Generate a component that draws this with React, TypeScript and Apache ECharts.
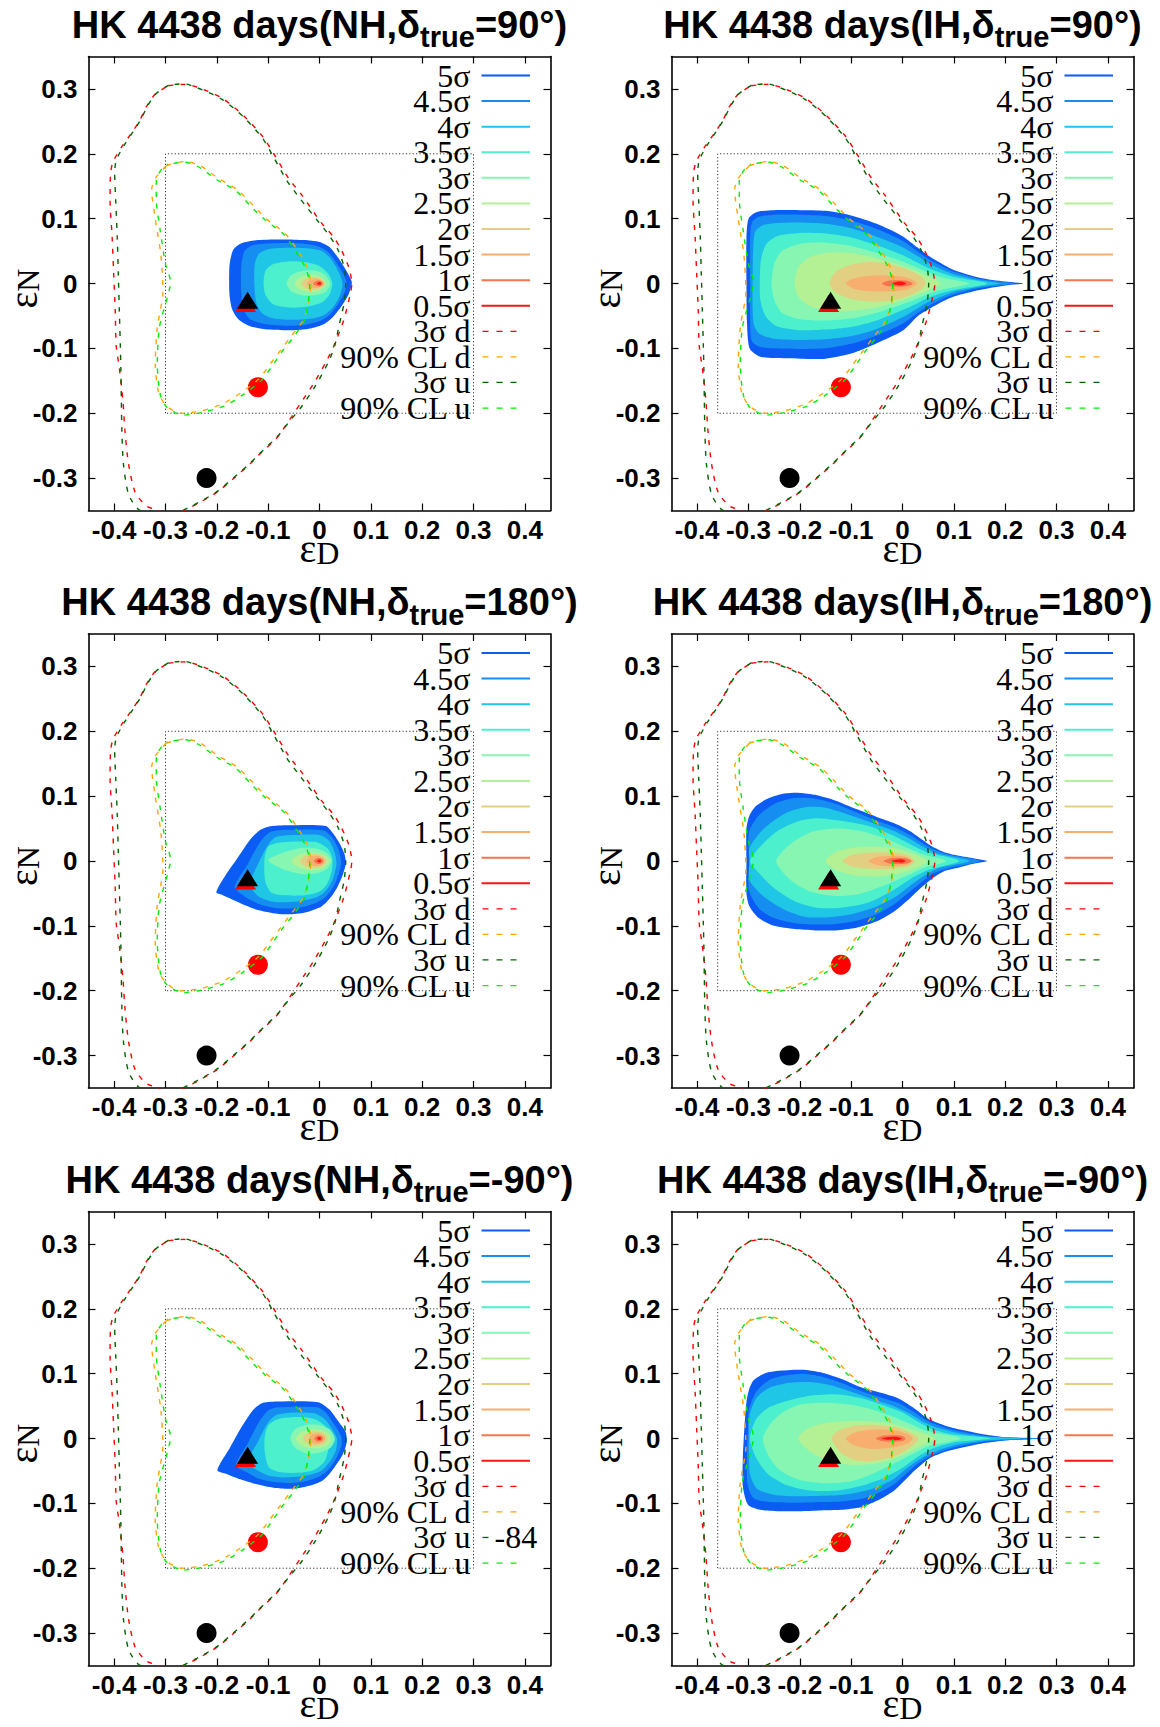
import React, { useEffect, useRef } from 'react';
import * as echarts from 'echarts';

// ---------- axis ticks ----------
const X_TICKS = [-0.4, -0.3, -0.2, -0.1, 0, 0.1, 0.2, 0.3, 0.4];
const Y_TICKS = [-0.3, -0.2, -0.1, 0, 0.1, 0.2, 0.3];

// ---------- panel titles ----------
const HIER = ['NH', 'IH', 'NH', 'IH', 'NH', 'IH'];
const DELTA = ['90', '90', '180', '180', '-90', '-90'];

// ---------- legend ----------
const LEVEL_NAMES = ['5σ', '4.5σ', '4σ', '3.5σ', '3σ', '2.5σ', '2σ', '1.5σ', '1σ', '0.5σ'];
const LEVEL_COLORS = ['#0a5cf4', '#168df0', '#1fc6e6', '#4cf0cc', '#86f6b2', '#b4f094', '#e3cf82', '#f7ae6e', '#f6744e', '#ff1414'];
const LINE_NAMES = ['3σ d', '90% CL d', '3σ u', '90% CL u'];
const LINE_COLORS = ['#ff0000', '#ffa500', '#006400', '#00ee00'];

// ---------- dashed contours (same in every panel) ----------
const C3S_D = [[-0.294,0.305],[-0.265,0.307],[-0.239,0.303],[-0.19,0.286],[-0.147,0.258],[-0.111,0.227],[-0.089,0.2],[-0.06,0.162],[-0.035,0.137],[0.004,0.093],[0.027,0.072],[0.043,0.051],[0.057,0.025],[0.063,0.0],[0.06,-0.016],[0.047,-0.057],[0.027,-0.098],[0.014,-0.119],[-0.012,-0.155],[-0.038,-0.186],[-0.06,-0.212],[-0.082,-0.237],[-0.119,-0.265],[-0.135,-0.278],[-0.168,-0.301],[-0.2,-0.322],[-0.239,-0.34],[-0.27,-0.352],[-0.3,-0.356],[-0.314,-0.35],[-0.337,-0.343],[-0.359,-0.322],[-0.372,-0.278],[-0.379,-0.227],[-0.383,-0.18],[-0.39,-0.13],[-0.396,-0.096],[-0.398,-0.04],[-0.401,0.016],[-0.404,0.072],[-0.408,0.128],[-0.407,0.17],[-0.402,0.188],[-0.385,0.211],[-0.368,0.23],[-0.351,0.25],[-0.337,0.273],[-0.32,0.292],[-0.294,0.305]];
const C90_D = [[-0.298,0.182],[-0.262,0.188],[-0.233,0.182],[-0.197,0.162],[-0.161,0.145],[-0.132,0.123],[-0.104,0.1],[-0.068,0.078],[-0.046,0.055],[-0.025,0.027],[-0.017,-0.001],[-0.021,-0.029],[-0.032,-0.057],[-0.053,-0.079],[-0.075,-0.102],[-0.096,-0.124],[-0.118,-0.147],[-0.154,-0.169],[-0.19,-0.186],[-0.233,-0.197],[-0.27,-0.2],[-0.298,-0.189],[-0.313,-0.169],[-0.32,-0.124],[-0.316,-0.068],[-0.305,-0.012],[-0.309,0.044],[-0.32,0.1],[-0.327,0.145],[-0.32,0.162],[-0.305,0.176],[-0.298,0.182]];
const C3S_U = [[-0.294,0.306],[-0.265,0.308],[-0.239,0.302],[-0.19,0.284],[-0.147,0.256],[-0.111,0.224],[-0.091,0.197],[-0.063,0.158],[-0.038,0.131],[-0.005,0.098],[0.018,0.075],[0.036,0.052],[0.048,0.025],[0.051,0.0],[0.048,-0.03],[0.038,-0.065],[0.03,-0.095],[0.018,-0.12],[-0.008,-0.158],[-0.035,-0.19],[-0.06,-0.214],[-0.082,-0.236],[-0.119,-0.264],[-0.135,-0.277],[-0.168,-0.3],[-0.2,-0.321],[-0.239,-0.339],[-0.27,-0.351],[-0.3,-0.357],[-0.33,-0.353],[-0.353,-0.348],[-0.372,-0.325],[-0.382,-0.278],[-0.385,-0.227],[-0.386,-0.18],[-0.387,-0.13],[-0.388,-0.096],[-0.39,-0.04],[-0.392,0.016],[-0.394,0.072],[-0.397,0.128],[-0.399,0.17],[-0.396,0.19],[-0.38,0.214],[-0.364,0.233],[-0.348,0.253],[-0.334,0.275],[-0.318,0.293],[-0.294,0.306]];
const C90_U = [[-0.296,0.184],[-0.262,0.187],[-0.236,0.18],[-0.2,0.16],[-0.163,0.143],[-0.135,0.12],[-0.106,0.098],[-0.07,0.076],[-0.048,0.052],[-0.028,0.025],[-0.019,0.0],[-0.022,-0.03],[-0.03,-0.058],[-0.05,-0.082],[-0.072,-0.104],[-0.092,-0.127],[-0.114,-0.15],[-0.15,-0.172],[-0.186,-0.189],[-0.23,-0.199],[-0.265,-0.203],[-0.296,-0.192],[-0.31,-0.172],[-0.316,-0.124],[-0.312,-0.068],[-0.296,-0.02],[-0.29,0.002],[-0.3,0.03],[-0.31,0.08],[-0.318,0.13],[-0.318,0.16],[-0.306,0.178],[-0.296,0.184]];
const CONTOURS = [C3S_D, C90_D, C3S_U, C90_U];

// ---------- dotted boxes ----------
const BOX_NH = [[-0.3,-0.2],[-0.3,0.2],[0.3,0.2],[0.3,-0.2],[-0.3,-0.2]];
const BOX_IH = [[-0.36,-0.2],[-0.36,0.2],[0.3,0.2],[0.3,-0.2],[-0.36,-0.2]];

// ---------- markers ----------
const BLACK_DOT = [[-0.22, -0.3]];
const RED_DOT = [[-0.12, -0.16]];
const RED_TRI = [[-0.144, -0.031]];
const BLACK_TRI = [[-0.14, -0.026]];

// ---------- filled contours: one list of polygons (5σ ... 0.5σ) per panel ----------
const SMALL_05 = [[-0.005,0.0],[-0.002,0.002],[0.002,0.002],[0.003,0.0],[0.002,-0.002],[-0.002,-0.002]];

const FILL_NH90 = [
  [[-0.176,0.0],[-0.175,0.03],[-0.168,0.052],[-0.152,0.062],[-0.12,0.067],[-0.07,0.068],[-0.03,0.067],[0.0,0.064],[0.02,0.056],[0.036,0.04],[0.052,0.02],[0.063,0.002],[0.057,-0.016],[0.042,-0.036],[0.026,-0.052],[0.008,-0.063],[-0.015,-0.069],[-0.05,-0.072],[-0.1,-0.071],[-0.135,-0.066],[-0.158,-0.055],[-0.17,-0.04],[-0.175,-0.02]],
  [[-0.153,0.0],[-0.152,0.03],[-0.146,0.05],[-0.13,0.059],[-0.09,0.062],[-0.04,0.062],[-0.005,0.058],[0.015,0.05],[0.032,0.033],[0.046,0.015],[0.053,0.0],[0.048,-0.015],[0.035,-0.033],[0.02,-0.048],[0.0,-0.058],[-0.03,-0.064],[-0.07,-0.065],[-0.11,-0.062],[-0.135,-0.055],[-0.148,-0.04],[-0.152,-0.02]],
  [[-0.127,0.0],[-0.126,0.03],[-0.118,0.046],[-0.1,0.053],[-0.06,0.055],[-0.02,0.054],[0.005,0.05],[0.022,0.038],[0.036,0.02],[0.045,0.0],[0.04,-0.018],[0.028,-0.035],[0.01,-0.048],[-0.015,-0.054],[-0.05,-0.056],[-0.09,-0.054],[-0.112,-0.046],[-0.123,-0.03]],
  [[-0.109,0.0],[-0.105,0.02],[-0.09,0.03],[-0.06,0.034],[-0.03,0.033],[0.0,0.027],[0.018,0.014],[0.025,0.0],[0.02,-0.016],[0.005,-0.029],[-0.025,-0.036],[-0.06,-0.037],[-0.09,-0.032],[-0.105,-0.018]],
  [[-0.064,0.0],[-0.055,0.013],[-0.035,0.019],[-0.01,0.02],[0.01,0.014],[0.021,0.0],[0.012,-0.013],[-0.01,-0.018],[-0.035,-0.018],[-0.055,-0.012]],
  [[-0.048,0.0],[-0.04,0.009],[-0.02,0.013],[0.0,0.011],[0.014,0.0],[0.0,-0.011],[-0.02,-0.013],[-0.04,-0.009]],
  [[-0.035,0.0],[-0.028,0.007],[-0.012,0.01],[0.003,0.007],[0.011,0.0],[0.003,-0.007],[-0.012,-0.01],[-0.028,-0.007]],
  [[-0.025,0.0],[-0.018,0.005],[-0.006,0.007],[0.005,0.004],[0.009,0.0],[0.005,-0.004],[-0.006,-0.007],[-0.018,-0.005]],
  [[-0.012,0.0],[-0.007,0.0035],[0.0,0.0045],[0.005,0.0025],[0.006,0.0],[0.005,-0.0025],[0.0,-0.0045],[-0.007,-0.0035]],
  SMALL_05,
];

const FILL_IH90 = [
  [[-0.304,0.0],[-0.304,0.07],[-0.3,0.1],[-0.285,0.11],[-0.25,0.113],[-0.2,0.113],[-0.15,0.112],[-0.1,0.105],[-0.05,0.092],[0.0,0.073],[0.03,0.055],[0.05,0.043],[0.08,0.029],[0.1,0.021],[0.15,0.009],[0.2,0.003],[0.235,0.0],[0.2,-0.003],[0.15,-0.01],[0.1,-0.02],[0.08,-0.027],[0.05,-0.04],[0.03,-0.05],[0.0,-0.073],[-0.05,-0.092],[-0.1,-0.108],[-0.15,-0.116],[-0.2,-0.116],[-0.25,-0.115],[-0.28,-0.112],[-0.298,-0.1],[-0.303,-0.06]],
  [[-0.297,0.0],[-0.297,0.07],[-0.293,0.095],[-0.28,0.103],[-0.25,0.106],[-0.2,0.106],[-0.15,0.104],[-0.1,0.097],[-0.05,0.084],[0.0,0.066],[0.03,0.049],[0.05,0.038],[0.08,0.025],[0.1,0.018],[0.15,0.007],[0.215,0.0],[0.15,-0.007],[0.1,-0.017],[0.08,-0.023],[0.05,-0.035],[0.03,-0.045],[0.0,-0.062],[-0.05,-0.08],[-0.1,-0.093],[-0.15,-0.1],[-0.2,-0.101],[-0.25,-0.1],[-0.28,-0.097],[-0.294,-0.088],[-0.297,-0.05]],
  [[-0.292,0.0],[-0.291,0.05],[-0.287,0.08],[-0.272,0.09],[-0.25,0.093],[-0.2,0.094],[-0.15,0.092],[-0.1,0.085],[-0.05,0.072],[0.0,0.056],[0.03,0.042],[0.05,0.032],[0.08,0.02],[0.1,0.014],[0.15,0.005],[0.19,0.0],[0.15,-0.005],[0.1,-0.013],[0.08,-0.019],[0.05,-0.029],[0.03,-0.038],[0.0,-0.052],[-0.05,-0.07],[-0.1,-0.081],[-0.15,-0.086],[-0.2,-0.087],[-0.25,-0.085],[-0.278,-0.078],[-0.289,-0.065],[-0.292,-0.04]],
  [[-0.278,0.0],[-0.276,0.035],[-0.266,0.06],[-0.245,0.073],[-0.2,0.078],[-0.15,0.077],[-0.1,0.071],[-0.05,0.059],[0.0,0.044],[0.03,0.032],[0.05,0.024],[0.08,0.015],[0.1,0.01],[0.165,0.0],[0.1,-0.01],[0.08,-0.014],[0.05,-0.022],[0.03,-0.03],[0.0,-0.041],[-0.05,-0.057],[-0.1,-0.067],[-0.15,-0.071],[-0.2,-0.072],[-0.245,-0.066],[-0.267,-0.05],[-0.277,-0.025]],
  [[-0.255,0.0],[-0.25,0.03],[-0.235,0.05],[-0.2,0.061],[-0.15,0.063],[-0.1,0.058],[-0.05,0.047],[0.0,0.034],[0.03,0.024],[0.05,0.017],[0.08,0.009],[0.13,0.0],[0.08,-0.009],[0.05,-0.016],[0.03,-0.023],[0.0,-0.032],[-0.05,-0.045],[-0.1,-0.054],[-0.15,-0.057],[-0.2,-0.055],[-0.235,-0.045],[-0.25,-0.025]],
  [[-0.21,0.0],[-0.203,0.025],[-0.18,0.041],[-0.14,0.048],[-0.1,0.047],[-0.05,0.039],[0.0,0.027],[0.03,0.018],[0.055,0.009],[0.075,0.0],[0.055,-0.009],[0.03,-0.017],[0.0,-0.026],[-0.05,-0.037],[-0.1,-0.042],[-0.14,-0.042],[-0.18,-0.035],[-0.203,-0.02]],
  [[-0.142,0.0],[-0.13,0.018],[-0.1,0.029],[-0.06,0.033],[-0.02,0.029],[0.015,0.02],[0.037,0.01],[0.045,0.0],[0.037,-0.009],[0.015,-0.018],[-0.02,-0.026],[-0.06,-0.028],[-0.1,-0.024],[-0.13,-0.014]],
  [[-0.11,0.0],[-0.095,0.008],[-0.06,0.012],[-0.02,0.012],[0.01,0.009],[0.028,0.0],[0.01,-0.009],[-0.02,-0.012],[-0.06,-0.012],[-0.095,-0.008]],
  [[-0.04,0.0],[-0.03,0.004],[-0.01,0.005],[0.01,0.004],[0.02,0.0],[0.01,-0.004],[-0.01,-0.005],[-0.03,-0.004]],
  [[-0.02,0.0],[-0.012,0.0025],[0.0,0.0028],[0.007,0.0],[0.0,-0.0028],[-0.012,-0.0025]],
];

const FILL_NH180 = [
  [[-0.201,-0.048],[-0.183,-0.022],[-0.161,0.003],[-0.133,0.035],[-0.115,0.048],[-0.1,0.053],[-0.061,0.055],[0.012,0.054],[0.026,0.043],[0.04,0.026],[0.049,0.01],[0.051,-0.005],[0.045,-0.022],[0.035,-0.04],[0.022,-0.056],[0.004,-0.07],[-0.032,-0.08],[-0.075,-0.082],[-0.118,-0.076],[-0.154,-0.065],[-0.19,-0.052]],
  [[-0.165,-0.04],[-0.14,-0.005],[-0.115,0.03],[-0.095,0.045],[-0.06,0.048],[0.008,0.047],[0.025,0.036],[0.037,0.018],[0.042,-0.004],[0.032,-0.032],[0.015,-0.053],[-0.005,-0.064],[-0.04,-0.072],[-0.08,-0.073],[-0.115,-0.067],[-0.145,-0.055]],
  [[-0.135,-0.035],[-0.12,-0.005],[-0.1,0.025],[-0.085,0.037],[-0.05,0.04],[0.0,0.04],[0.02,0.03],[0.03,0.012],[0.033,-0.005],[0.025,-0.03],[0.01,-0.048],[-0.01,-0.057],[-0.05,-0.063],[-0.09,-0.063],[-0.12,-0.054]],
  [[-0.107,0.005],[-0.1,0.022],[-0.08,0.028],[-0.04,0.03],[-0.005,0.029],[0.015,0.02],[0.025,0.005],[0.024,-0.015],[0.015,-0.035],[0.0,-0.047],[-0.03,-0.053],[-0.07,-0.053],[-0.095,-0.048],[-0.106,-0.03]],
  [[-0.1,0.001],[-0.07,0.013],[-0.035,0.02],[-0.005,0.019],[0.015,0.012],[0.024,0.0],[0.015,-0.012],[-0.005,-0.019],[-0.035,-0.02],[-0.07,-0.013]],
  [[-0.055,0.0],[-0.04,0.01],[-0.015,0.013],[0.008,0.01],[0.02,0.0],[0.008,-0.011],[-0.015,-0.014],[-0.04,-0.01]],
  [[-0.038,0.0],[-0.028,0.008],[-0.01,0.011],[0.005,0.008],[0.014,0.0],[0.005,-0.008],[-0.01,-0.011],[-0.028,-0.008]],
  [[-0.025,0.0],[-0.017,0.006],[-0.005,0.008],[0.006,0.005],[0.01,0.0],[0.006,-0.005],[-0.005,-0.008],[-0.017,-0.006]],
  [[-0.011,0.0],[-0.006,0.004],[0.0,0.0045],[0.005,0.003],[0.007,0.0],[0.005,-0.003],[0.0,-0.0045],[-0.006,-0.004]],
  SMALL_05,
];

const FILL_IH180 = [
  [[-0.304,0.0],[-0.304,0.05],[-0.298,0.07],[-0.285,0.085],[-0.26,0.097],[-0.23,0.104],[-0.2,0.105],[-0.17,0.102],[-0.13,0.093],[-0.09,0.08],[-0.05,0.068],[-0.015,0.058],[0.015,0.046],[0.04,0.032],[0.056,0.023],[0.08,0.014],[0.11,0.008],[0.14,0.004],[0.165,0.0],[0.14,-0.004],[0.11,-0.01],[0.08,-0.016],[0.056,-0.028],[0.035,-0.042],[0.015,-0.057],[-0.015,-0.077],[-0.05,-0.093],[-0.09,-0.103],[-0.13,-0.107],[-0.17,-0.107],[-0.21,-0.105],[-0.25,-0.1],[-0.28,-0.088],[-0.298,-0.07],[-0.304,-0.05]],
  [[-0.299,0.0],[-0.299,0.045],[-0.28,0.07],[-0.25,0.088],[-0.21,0.097],[-0.17,0.096],[-0.13,0.088],[-0.09,0.075],[-0.05,0.062],[-0.015,0.052],[0.015,0.04],[0.04,0.027],[0.06,0.018],[0.09,0.01],[0.15,0.0],[0.09,-0.011],[0.06,-0.019],[0.04,-0.031],[0.015,-0.047],[-0.015,-0.066],[-0.05,-0.082],[-0.09,-0.092],[-0.13,-0.097],[-0.17,-0.098],[-0.21,-0.096],[-0.25,-0.088],[-0.28,-0.073],[-0.299,-0.045]],
  [[-0.298,0.0],[-0.298,0.02],[-0.27,0.05],[-0.23,0.073],[-0.19,0.083],[-0.15,0.082],[-0.1,0.07],[-0.05,0.056],[-0.015,0.046],[0.015,0.034],[0.04,0.022],[0.07,0.011],[0.13,0.0],[0.07,-0.011],[0.04,-0.024],[0.015,-0.038],[-0.015,-0.056],[-0.05,-0.07],[-0.1,-0.082],[-0.15,-0.087],[-0.19,-0.086],[-0.23,-0.075],[-0.27,-0.055],[-0.298,-0.03]],
  [[-0.297,0.0],[-0.27,0.028],[-0.24,0.048],[-0.2,0.062],[-0.167,0.066],[-0.12,0.062],[-0.066,0.054],[-0.02,0.04],[0.015,0.026],[0.05,0.013],[0.11,0.0],[0.05,-0.014],[0.015,-0.028],[-0.02,-0.046],[-0.066,-0.064],[-0.12,-0.072],[-0.167,-0.072],[-0.21,-0.062],[-0.25,-0.042],[-0.278,-0.02]],
  [[-0.246,0.0],[-0.22,0.025],[-0.18,0.044],[-0.13,0.05],[-0.08,0.046],[-0.03,0.034],[0.01,0.02],[0.04,0.01],[0.085,0.0],[0.04,-0.011],[0.01,-0.022],[-0.03,-0.036],[-0.08,-0.05],[-0.13,-0.054],[-0.18,-0.047],[-0.22,-0.028]],
  [[-0.15,0.0],[-0.13,0.014],[-0.095,0.021],[-0.05,0.022],[-0.01,0.019],[0.025,0.01],[0.048,0.0],[0.025,-0.011],[-0.01,-0.02],[-0.05,-0.024],[-0.095,-0.022],[-0.13,-0.014]],
  [[-0.117,0.0],[-0.1,0.009],[-0.06,0.013],[-0.02,0.013],[0.01,0.009],[0.024,0.0],[0.01,-0.009],[-0.02,-0.012],[-0.06,-0.012],[-0.1,-0.008]],
  [[-0.066,0.0],[-0.05,0.006],[-0.02,0.008],[0.005,0.007],[0.02,0.0],[0.005,-0.007],[-0.02,-0.008],[-0.05,-0.006]],
  [[-0.037,0.0],[-0.025,0.004],[-0.008,0.005],[0.008,0.004],[0.017,0.0],[0.008,-0.004],[-0.008,-0.005],[-0.025,-0.004]],
  [[-0.022,0.0],[-0.012,0.002],[0.0,0.0025],[0.006,0.0],[0.0,-0.0025],[-0.012,-0.002]],
];

const FILL_NHM90 = [
  [[-0.199,-0.049],[-0.175,-0.015],[-0.15,0.02],[-0.128,0.045],[-0.11,0.055],[-0.08,0.057],[-0.003,0.056],[0.019,0.045],[0.038,0.025],[0.051,0.01],[0.053,-0.006],[0.045,-0.025],[0.033,-0.04],[0.018,-0.056],[0.004,-0.066],[-0.02,-0.073],[-0.046,-0.077],[-0.075,-0.077],[-0.104,-0.074],[-0.13,-0.069],[-0.154,-0.063],[-0.18,-0.055]],
  [[-0.163,-0.041],[-0.14,-0.008],[-0.118,0.025],[-0.1,0.043],[-0.08,0.048],[-0.005,0.048],[0.012,0.04],[0.03,0.02],[0.042,0.004],[0.043,-0.01],[0.033,-0.03],[0.015,-0.05],[-0.005,-0.06],[-0.04,-0.068],[-0.08,-0.068],[-0.115,-0.063],[-0.14,-0.053]],
  [[-0.14,-0.036],[-0.12,-0.005],[-0.1,0.025],[-0.085,0.036],[-0.05,0.04],[-0.01,0.039],[0.01,0.03],[0.025,0.014],[0.034,0.0],[0.032,-0.018],[0.02,-0.036],[0.003,-0.05],[-0.03,-0.058],[-0.07,-0.06],[-0.1,-0.057],[-0.125,-0.047]],
  [[-0.107,0.0],[-0.1,0.02],[-0.08,0.03],[-0.04,0.033],[-0.01,0.03],[0.01,0.02],[0.02,0.005],[0.018,-0.015],[0.01,-0.035],[-0.01,-0.048],[-0.04,-0.053],[-0.075,-0.052],[-0.098,-0.045],[-0.106,-0.025]],
  [[-0.057,0.0],[-0.048,0.014],[-0.025,0.021],[0.0,0.021],[0.02,0.014],[0.03,0.0],[0.022,-0.014],[0.0,-0.022],[-0.025,-0.023],[-0.048,-0.014]],
  [[-0.046,0.0],[-0.036,0.01],[-0.015,0.014],[0.005,0.013],[0.02,0.006],[0.022,-0.003],[0.015,-0.011],[-0.005,-0.015],[-0.025,-0.014],[-0.04,-0.008]],
  [[-0.032,0.0],[-0.024,0.008],[-0.008,0.011],[0.008,0.008],[0.015,0.0],[0.008,-0.008],[-0.008,-0.011],[-0.024,-0.008]],
  [[-0.021,0.0],[-0.014,0.006],[-0.003,0.008],[0.007,0.005],[0.011,0.0],[0.007,-0.005],[-0.003,-0.008],[-0.014,-0.006]],
  [[-0.01,0.0],[-0.006,0.004],[0.0,0.0045],[0.005,0.003],[0.007,0.0],[0.005,-0.003],[0.0,-0.0045],[-0.006,-0.004]],
  SMALL_05,
];

const FILL_IHM90 = [
  [[-0.308,0.016],[-0.304,0.056],[-0.298,0.078],[-0.29,0.09],[-0.27,0.1],[-0.246,0.104],[-0.196,0.106],[-0.16,0.102],[-0.12,0.092],[-0.081,0.079],[-0.04,0.07],[-0.009,0.062],[0.02,0.048],[0.04,0.036],[0.056,0.028],[0.09,0.018],[0.128,0.011],[0.16,0.006],[0.2,0.002],[0.25,0.0005],[0.294,0.0],[0.25,-0.001],[0.2,-0.003],[0.16,-0.007],[0.128,-0.012],[0.09,-0.019],[0.056,-0.029],[0.04,-0.038],[0.02,-0.052],[-0.016,-0.08],[-0.05,-0.096],[-0.081,-0.106],[-0.12,-0.11],[-0.16,-0.111],[-0.2,-0.112],[-0.268,-0.111],[-0.3,-0.103],[-0.311,-0.074],[-0.311,-0.029]],
  [[-0.301,0.016],[-0.299,0.045],[-0.285,0.072],[-0.26,0.09],[-0.23,0.097],[-0.196,0.1],[-0.16,0.096],[-0.12,0.086],[-0.08,0.073],[-0.04,0.063],[-0.009,0.055],[0.02,0.042],[0.04,0.031],[0.06,0.023],[0.09,0.015],[0.13,0.008],[0.17,0.003],[0.27,0.0],[0.17,-0.004],[0.13,-0.009],[0.09,-0.016],[0.06,-0.025],[0.04,-0.033],[0.02,-0.045],[-0.016,-0.07],[-0.05,-0.085],[-0.08,-0.093],[-0.12,-0.097],[-0.16,-0.098],[-0.2,-0.099],[-0.26,-0.098],[-0.29,-0.092],[-0.302,-0.07],[-0.303,-0.029]],
  [[-0.299,0.0],[-0.298,0.035],[-0.285,0.062],[-0.26,0.078],[-0.22,0.086],[-0.18,0.087],[-0.14,0.082],[-0.1,0.072],[-0.06,0.061],[-0.02,0.051],[0.01,0.04],[0.04,0.026],[0.07,0.016],[0.11,0.008],[0.16,0.003],[0.23,0.0],[0.16,-0.003],[0.11,-0.009],[0.07,-0.018],[0.04,-0.029],[0.01,-0.045],[-0.02,-0.064],[-0.06,-0.078],[-0.1,-0.085],[-0.14,-0.088],[-0.2,-0.089],[-0.25,-0.087],[-0.283,-0.078],[-0.297,-0.055],[-0.299,-0.025]],
  [[-0.297,0.0],[-0.285,0.03],[-0.26,0.048],[-0.225,0.058],[-0.18,0.066],[-0.124,0.068],[-0.08,0.062],[-0.04,0.052],[0.0,0.04],[0.03,0.026],[0.06,0.014],[0.1,0.006],[0.17,0.0],[0.1,-0.006],[0.06,-0.015],[0.03,-0.028],[0.0,-0.045],[-0.04,-0.062],[-0.08,-0.073],[-0.124,-0.08],[-0.18,-0.08],[-0.225,-0.072],[-0.262,-0.055],[-0.285,-0.03]],
  [[-0.272,0.0],[-0.255,0.025],[-0.23,0.042],[-0.2,0.052],[-0.15,0.055],[-0.1,0.052],[-0.06,0.045],[-0.02,0.034],[0.02,0.021],[0.05,0.011],[0.114,0.0],[0.05,-0.012],[0.02,-0.024],[-0.02,-0.04],[-0.06,-0.055],[-0.1,-0.066],[-0.15,-0.069],[-0.2,-0.064],[-0.24,-0.048],[-0.262,-0.025]],
  [[-0.203,0.0],[-0.185,0.015],[-0.15,0.024],[-0.1,0.027],[-0.05,0.026],[-0.01,0.021],[0.03,0.011],[0.063,0.0],[0.035,-0.012],[0.0,-0.026],[-0.04,-0.037],[-0.09,-0.041],[-0.14,-0.036],[-0.18,-0.02]],
  [[-0.138,0.0],[-0.125,0.012],[-0.09,0.02],[-0.05,0.021],[-0.01,0.017],[0.015,0.009],[0.031,0.0],[0.018,-0.012],[-0.01,-0.026],[-0.05,-0.034],[-0.09,-0.034],[-0.12,-0.022]],
  [[-0.11,0.0],[-0.09,0.01],[-0.05,0.014],[-0.01,0.012],[0.012,0.006],[0.02,0.0],[0.01,-0.008],[-0.02,-0.014],[-0.06,-0.016],[-0.095,-0.01]],
  [[-0.052,0.0],[-0.04,0.004],[-0.02,0.005],[0.0,0.004],[0.006,0.0],[0.0,-0.004],[-0.02,-0.005],[-0.04,-0.004]],
  [[-0.041,0.0],[-0.03,0.002],[-0.01,0.0025],[-0.001,0.0],[-0.01,-0.0025],[-0.03,-0.002]],
];

const PANEL_FILLS = [FILL_NH90, FILL_IH90, FILL_NH180, FILL_IH180, FILL_NHM90, FILL_IHM90];

// ---------- layout ----------
const GRID_LEFT = [88.5, 671.5];
const GRID_TOP = [56.5, 634, 1211.5];
const GRID_W = 462;
const GRID_H = 454;
const SANS = '"Liberation Sans", Arial, Helvetica, sans-serif';
const SERIF = '"Liberation Serif", "Times New Roman", serif';

function buildOption() {
  const grids: any[] = [];
  const xAxes: any[] = [];
  const yAxes: any[] = [];
  const series: any[] = [];
  const graphics: any[] = [];

  const frameLine = { show: true, onZero: false, lineStyle: { color: '#000', width: 1.6 } };
  const tickStyle = { color: '#000', width: 1.2 };
  const labelStyle = { color: '#000', fontSize: 26, fontWeight: 'bold', fontFamily: SANS, formatter: (v: number) => String(v) };

  for (let i = 0; i < 6; i++) {
    const col = i % 2;
    const row = Math.floor(i / 2);
    const L = GRID_LEFT[col];
    const T = GRID_TOP[row];
    const cx = L + GRID_W / 2;
    const isIH = HIER[i] === 'IH';

    grids.push({ left: L, top: T, width: GRID_W, height: GRID_H, containLabel: false });

    xAxes.push({
      type: 'value', gridIndex: i, min: -0.45, max: 0.45, position: 'bottom',
      axisLine: frameLine,
      axisTick: { show: true, inside: true, length: 7, customValues: X_TICKS, lineStyle: tickStyle },
      axisLabel: { show: true, customValues: X_TICKS, margin: 6, ...labelStyle },
      splitLine: { show: false },
    });
    xAxes.push({
      type: 'value', gridIndex: i, min: -0.45, max: 0.45, position: 'top',
      axisLine: frameLine,
      axisTick: { show: true, inside: true, length: 7, customValues: X_TICKS, lineStyle: tickStyle },
      axisLabel: { show: false },
      splitLine: { show: false },
    });
    yAxes.push({
      type: 'value', gridIndex: i, min: -0.35, max: 0.35, position: 'left',
      axisLine: frameLine,
      axisTick: { show: true, inside: true, length: 7, customValues: Y_TICKS, lineStyle: tickStyle },
      axisLabel: { show: true, customValues: Y_TICKS, margin: 11, ...labelStyle },
      splitLine: { show: false },
    });
    yAxes.push({
      type: 'value', gridIndex: i, min: -0.35, max: 0.35, position: 'right',
      axisLine: frameLine,
      axisTick: { show: true, inside: true, length: 7, customValues: Y_TICKS, lineStyle: tickStyle },
      axisLabel: { show: false },
      splitLine: { show: false },
    });

    const xi = 2 * i;
    const yi = 2 * i;
    const fills = PANEL_FILLS[i];

    series.push({
      type: 'custom', xAxisIndex: xi, yAxisIndex: yi, clip: true, silent: true,
      data: fills.map((p: number[][]) => p[0]),
      renderItem: (params: any, api: any) => {
        const poly = fills[params.dataIndex];
        const pts = poly.map((p: number[]) => api.coord(p));
        return {
          type: 'polygon',
          shape: { points: pts, smooth: 0.25 },
          style: { fill: LEVEL_COLORS[params.dataIndex], stroke: null },
        };
      },
    });

    series.push({
      type: 'line', xAxisIndex: xi, yAxisIndex: yi, data: isIH ? BOX_IH : BOX_NH,
      symbol: 'none', silent: true, clip: true,
      lineStyle: { color: '#333', width: 1, type: [1.2, 2.2] },
    });

    CONTOURS.forEach((c, k) => {
      series.push({
        type: 'line', name: LINE_NAMES[k], xAxisIndex: xi, yAxisIndex: yi, data: c,
        symbol: 'none', smooth: 0.25, silent: true, clip: true,
        lineStyle: { color: LINE_COLORS[k], width: 1.4, type: [5, 7], dashOffset: k >= 2 ? 6 : 0 },
      });
    });

    const sc = (data: number[][], symbol: string, size: any, color: string) => ({
      type: 'scatter', xAxisIndex: xi, yAxisIndex: yi, data, symbol, symbolSize: size,
      silent: true, clip: true, itemStyle: { color, opacity: 1 },
    });
    series.push(sc(BLACK_DOT, 'circle', 20, '#000'));
    series.push(sc(RED_DOT, 'circle', 20, '#ff0000'));
    series.push(sc(RED_TRI, 'triangle', [21, 17], '#ff0000'));
    series.push(sc(BLACK_TRI, 'triangle', [21, 17], '#000'));

    // title
    graphics.push({
      type: 'text', x: cx, y: T - 32, z: 100,
      style: {
        text: `{m|HK 4438 days(${HIER[i]},δ}{s|true}{m|=${DELTA[i]}°)}`,
        align: 'center', verticalAlign: 'middle', textAlign: 'center', textVerticalAlign: 'middle',
        fill: '#000',
        rich: {
          m: { fontSize: 38, fontWeight: 'bold', fontFamily: SANS, lineHeight: 54, fill: '#000', color: '#000' },
          s: { fontSize: 29, fontWeight: 'bold', fontFamily: SANS, lineHeight: 28, verticalAlign: 'bottom', fill: '#000', color: '#000' },
        },
      },
    });

    // x axis name
    graphics.push({
      type: 'text', x: cx, y: T + GRID_H + 38, z: 100,
      style: {
        text: '{e|ε}{d|D}',
        align: 'center', verticalAlign: 'middle', textAlign: 'center', textVerticalAlign: 'middle',
        fill: '#000',
        rich: {
          e: { fontSize: 40, fontFamily: SERIF, lineHeight: 40, fill: '#000', color: '#000' },
          d: { fontSize: 32, fontFamily: SERIF, lineHeight: 22, verticalAlign: 'bottom', fill: '#000', color: '#000' },
        },
      },
    });

    // y axis name (rotated)
    graphics.push({
      type: 'text', x: L - 65, y: T + 232, z: 100, rotation: Math.PI / 2,
      style: {
        text: '{e|ε}{n|N}',
        align: 'center', verticalAlign: 'middle', textAlign: 'center', textVerticalAlign: 'middle',
        fill: '#000',
        rich: {
          e: { fontSize: 40, fontFamily: SERIF, lineHeight: 40, fill: '#000', color: '#000' },
          n: { fontSize: 32, fontFamily: SERIF, lineHeight: 22, verticalAlign: 'bottom', fill: '#000', color: '#000' },
        },
      },
    });

    // legend
    const allNames = LEVEL_NAMES.concat(LINE_NAMES);
    allNames.forEach((name, k) => {
      const y = T + 19 + k * 25.58;
      graphics.push({
        type: 'text', x: L + 382, y, z: 100,
        style: {
          text: name, fontSize: 32, fontFamily: SERIF, fill: '#000',
          align: 'right', verticalAlign: 'middle', textAlign: 'right', textVerticalAlign: 'middle',
        },
      });
      if (k < 10) {
        graphics.push({
          type: 'line', z: 99,
          shape: { x1: L + 393, y1: y, x2: L + 441.5, y2: y },
          style: { stroke: LEVEL_COLORS[k], lineWidth: 2 },
        });
      } else {
        const li = k - 10;
        if (i === 4 && li === 2) {
          graphics.push({
            type: 'line', z: 99,
            shape: { x1: L + 394, y1: y, x2: L + 400, y2: y },
            style: { stroke: LINE_COLORS[li], lineWidth: 1.3 },
          });
          graphics.push({
            type: 'text', x: L + 406, y, z: 100,
            style: {
              text: '-84', fontSize: 32, fontFamily: SERIF, fill: '#000',
              align: 'left', verticalAlign: 'middle', textAlign: 'left', textVerticalAlign: 'middle',
            },
          });
        } else {
          graphics.push({
            type: 'line', z: 99,
            shape: { x1: L + 394, y1: y, x2: L + 431, y2: y },
            style: { stroke: LINE_COLORS[li], lineWidth: 1.3, lineDash: [6, 8] },
          });
        }
      }
    });
  }

  return {
    animation: false,
    backgroundColor: '#ffffff',
    grid: grids,
    xAxis: xAxes,
    yAxis: yAxes,
    series,
    graphic: { elements: graphics },
  };
}

export default function App() {
  const ref = useRef<HTMLDivElement>(null);
  useEffect(() => {
    document.body.style.margin = '0';
    document.body.style.overflow = 'hidden';
    if (!ref.current) return;
    const chart = echarts.init(ref.current, null, { renderer: 'svg' });
    chart.setOption(buildOption() as any);
    return () => chart.dispose();
  }, []);
  return <div ref={ref} style={{ width: 1160, height: 1727, background: '#fff' }} />;
}
